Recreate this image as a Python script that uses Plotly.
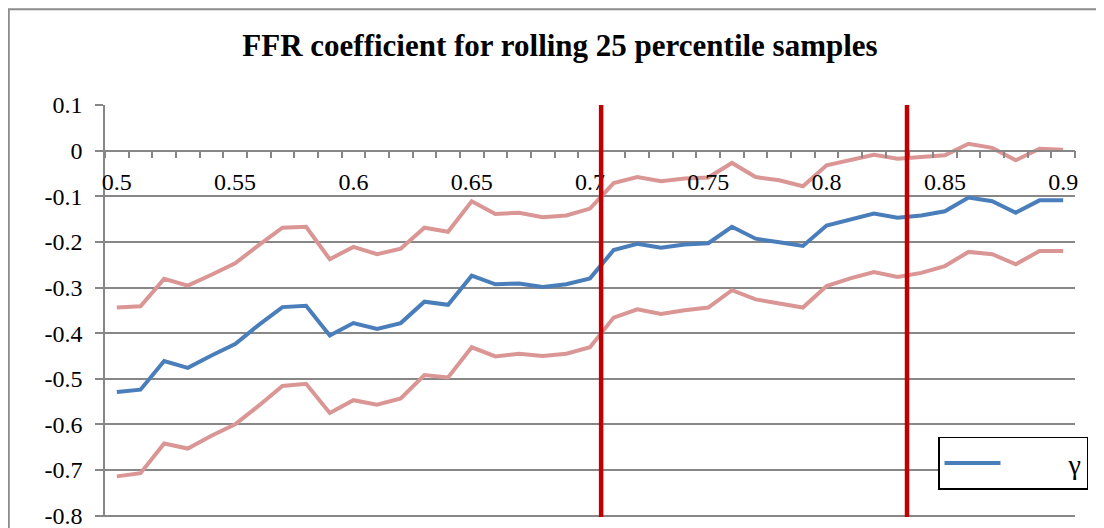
import plotly.graph_objects as go

# Categories (percentile thresholds)
categories = [round(0.50 + 0.01 * i, 2) for i in range(41)]

gamma = [-0.529, -0.524, -0.461, -0.476, -0.449, -0.424, -0.382, -0.343, -0.340, -0.405,
         -0.378, -0.391, -0.378, -0.331, -0.338, -0.274, -0.293, -0.291, -0.299, -0.293,
         -0.280, -0.218, -0.204, -0.213, -0.206, -0.203, -0.167, -0.193, -0.201, -0.209,
         -0.164, -0.151, -0.138, -0.147, -0.142, -0.133, -0.103, -0.111, -0.136, -0.109,
         -0.109]

upper = [-0.344, -0.341, -0.281, -0.296, -0.272, -0.247, -0.207, -0.169, -0.167, -0.238,
         -0.211, -0.227, -0.215, -0.169, -0.178, -0.111, -0.139, -0.136, -0.146, -0.142,
         -0.127, -0.071, -0.058, -0.067, -0.061, -0.059, -0.027, -0.058, -0.065, -0.078,
         -0.032, -0.021, -0.009, -0.018, -0.015, -0.010, 0.015, 0.006, -0.021, 0.004,
         0.002]

lower = [-0.714, -0.707, -0.642, -0.653, -0.625, -0.600, -0.559, -0.516, -0.511, -0.575,
         -0.547, -0.557, -0.543, -0.492, -0.497, -0.431, -0.451, -0.445, -0.450, -0.445,
         -0.431, -0.366, -0.348, -0.358, -0.350, -0.344, -0.306, -0.326, -0.335, -0.344,
         -0.297, -0.280, -0.266, -0.277, -0.268, -0.253, -0.222, -0.227, -0.249, -0.220,
         -0.220]

x_tick_vals = [0.5, 0.55, 0.6, 0.65, 0.7, 0.75, 0.8, 0.85, 0.9]
x_tick_text = ["0.5", "0.55", "0.6", "0.65", "0.7", "0.75", "0.8", "0.85", "0.9"]
y_tick_vals = [0.1, 0, -0.1, -0.2, -0.3, -0.4, -0.5, -0.6, -0.7, -0.8]
y_tick_text = ["0.1", "0", "-0.1", "-0.2", "-0.3", "-0.4", "-0.5", "-0.6", "-0.7", "-0.8"]
break_points = [0.7047, 0.834]

title = "FFR coefficient for rolling 25 percentile samples"
legend_name = "\u00a0" * 9 + "γ"

FONT = "Liberation Serif, Times New Roman, serif"
GRID = "#878787"
BLUE = "#4A7EBB"
PINK = "#DA9694"
RED = "#C00000"

# category boundaries for tick marks
step = 0.01
boundaries = [round(categories[0] - step / 2 + step * k, 4) for k in range(len(categories) + 1)]

Y_LO, Y_HI = -0.803, 0.1
PX_PER_UNIT = 457.0

# page offset (body margin) compensation: figure drawn from page pixel 8
OFF = 8
FW, FH = 1104 - OFF, 528 - OFF
L, R = 105 - OFF, 1075 - OFF
T = 104.7 - OFF
B = T + (Y_HI - Y_LO) * PX_PER_UNIT
W, H = R - L, B - T

fig = go.Figure()
fig.add_trace(go.Scatter(x=categories, y=upper, mode="lines",
                         line=dict(color=PINK, width=4), showlegend=False, hoverinfo="skip"))
fig.add_trace(go.Scatter(x=categories, y=lower, mode="lines",
                         line=dict(color=PINK, width=4), showlegend=False, hoverinfo="skip"))
fig.add_trace(go.Scatter(x=categories, y=gamma, mode="lines", name=legend_name,
                         line=dict(color=BLUE, width=4)))

for bp in break_points:
    fig.add_shape(type="line", xref="x", yref="y", x0=bp, x1=bp, y0=-0.81, y1=0.1,
                  line=dict(color=RED, width=4.5), layer="above")

# chart outer border
fig.add_shape(type="rect", xref="paper", yref="paper",
              x0=(0.8 - L) / W, x1=(FW + 10 - L) / W, y0=(B - 0.8) / H, y1=(B - FH - 10) / H,
              line=dict(color="#8C8C8C", width=2), fillcolor="rgba(0,0,0,0)")

fig.update_layout(
    width=FW, height=FH,
    margin=dict(l=L, r=FW - R, t=T, b=FH - B, autoexpand=False),
    paper_bgcolor="white", plot_bgcolor="white",
    font=dict(family=FONT, size=24, color="black"),
    title=dict(text="<b>" + title + "</b>", x=(560 - OFF) / FW, xref="container", xanchor="center",
               y=1 - (45 - OFF) / FH, yref="container", yanchor="middle",
               font=dict(family=FONT, size=31, color="black")),
    xaxis=dict(range=[boundaries[0], boundaries[-1]], anchor="free",
               position=(0 - Y_LO) / (Y_HI - Y_LO),
               showline=True, linecolor=GRID, linewidth=1.5,
               tickvals=x_tick_vals, ticktext=x_tick_text, ticks="", showgrid=False,
               zeroline=False, ticklabelstandoff=10, ticklabeloverflow="allow",
               minor=dict(tickvals=boundaries, ticks="outside", ticklen=7,
                          tickcolor=GRID, tickwidth=1.5, showgrid=False),
               tickfont=dict(family=FONT, size=24)),
    yaxis=dict(range=[Y_LO, Y_HI], tickvals=y_tick_vals, ticktext=y_tick_text,
               showline=True, linecolor=GRID, linewidth=1.5,
               ticks="outside", ticklen=8, tickcolor=GRID, tickwidth=1.5,
               showgrid=True, gridcolor=GRID, gridwidth=1.5, zeroline=False,
               ticklabelstandoff=8, ticklabeloverflow="allow",
               tickfont=dict(family=FONT, size=24)),
    legend=dict(x=(938 - OFF - L) / W, y=(B - (437 - OFF)) / H, xanchor="left", yanchor="top",
                bordercolor="black", borderwidth=1.5, bgcolor="white",
                font=dict(family=FONT, size=28), itemwidth=56),
)

fig.write_html("out.html")
